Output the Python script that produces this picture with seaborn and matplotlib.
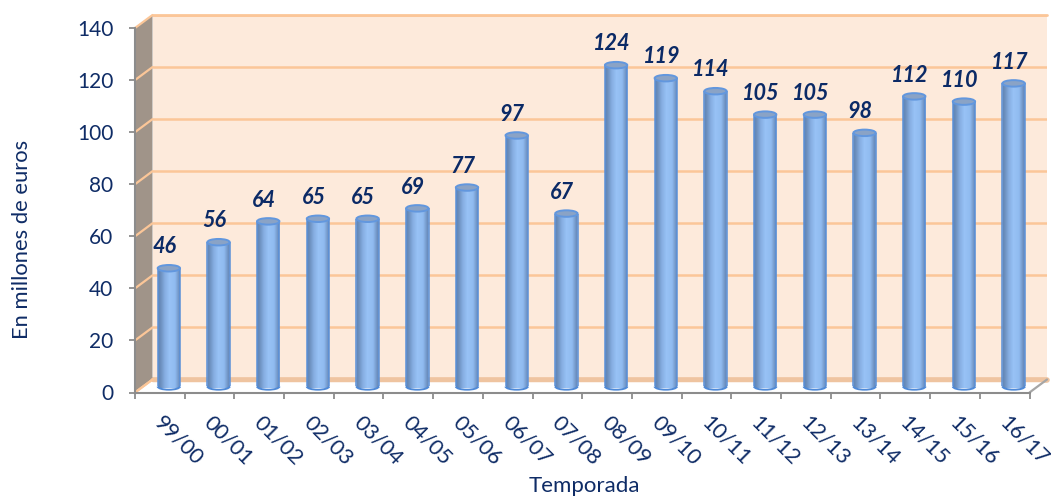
import numpy as np
import matplotlib
matplotlib.use("Agg")
import matplotlib.pyplot as plt
import matplotlib.colors as mc
from matplotlib.patches import Ellipse, Arc
from matplotlib.path import Path
from matplotlib.transforms import ScaledTranslation, Affine2D
import pandas as pd
import seaborn as sns

seasons = ["99/00","00/01","01/02","02/03","03/04","04/05","05/06","06/07","07/08",
           "08/09","09/10","10/11","11/12","12/13","13/14","14/15","15/16","16/17"]
values = [46,56,64,65,65,69,77,97,67,124,119,114,105,105,98,112,110,117]
y_ticks = [0,20,40,60,80,100,120,140]
x_title = "Temporada"
y_title = "En millones de euros"

NAVY = "#0F2C66"
W, H = 1051, 497
sns.set_theme(style="white")
plt.rcParams["font.family"] = ["Lato", "DejaVu Sans"]
fig = plt.figure(figsize=(W/100, H/100), dpi=100)

def box(l, r, top, bot):
    return [l/W, 1-bot/H, (r-l)/W, (bot-top)/H]

DX, DY = 17.5, 13
X0, X1, YB, YT = 135, 1029.5, 392.5, 28
ymax = 140
unit_x = (X1-X0)/18
unit_y = (YB-YT)/ymax

# back wall
wall = fig.add_axes(box(X0+DX, X1+DX, YT-DY, YB-DY), zorder=0)
wall.set_facecolor("#FDEADB")
wall.set_xlim(0, 1); wall.set_ylim(0, ymax)
wall.set_xticks([]); wall.set_yticks(y_ticks)
wall.tick_params(left=False, labelleft=False)
wall.grid(axis="y", color="#FBC698", lw=1.8)
wall.set_axisbelow(True)
for s in wall.spines.values():
    s.set_visible(False)
wall.axhline(0, color="#EFC4A0", lw=4, clip_on=False)
wall.axhline(ymax, color="#FBC698", lw=2, clip_on=False)

# front frame, side wall
ax = fig.add_axes(box(X0, X1, YT, YB), zorder=1)
ax.patch.set_alpha(0)
ax.set_xlim(-0.5, 17.5); ax.set_ylim(0, ymax)
dx_d, dy_d = DX/unit_x, DY/unit_y
ax.fill([-0.5, -0.5+dx_d, -0.5+dx_d, -0.5], [0, dy_d, ymax+dy_d, ymax],
        color="#A09489", lw=0, clip_on=False, zorder=1)
for v in y_ticks:
    ax.plot([-0.5, -0.5+dx_d], [v, v+dy_d], color="#FBC698", lw=1.6, clip_on=False, zorder=2)
# floor
ax.fill([-0.5, -0.5+dx_d, 17.5+dx_d, 17.5], [0, dy_d, dy_d, 0], color="white",
        lw=0, clip_on=False, zorder=1.5)
ax.plot([-0.5, -0.5+dx_d], [0, dy_d], color="#FBC698", lw=1.6, clip_on=False, zorder=2)
ax.plot([17.5, 17.5+dx_d], [0, dy_d], color="#A6A6A6", lw=1.6, clip_on=False, zorder=2)
ax.plot([-0.5+dx_d, 17.5+dx_d], [dy_d, dy_d], color="#EFC4A0", lw=3.2, clip_on=False, zorder=1.8)

for s in ["top", "right"]:
    ax.spines[s].set_visible(False)
for s in ["left", "bottom"]:
    ax.spines[s].set_color("#8C8C8C"); ax.spines[s].set_linewidth(1.5)
ax.set_yticks(y_ticks)
ax.set_xticks(np.arange(-0.5, 18, 1))
ax.set_xticklabels([])
ax.set_xticks(np.arange(18), minor=True)
ax.set_xticklabels(seasons, minor=True)
ax.tick_params(axis="x", which="major", bottom=True, length=4.5, width=1.3, color="#8C8C8C")
ax.tick_params(axis="y", left=True, length=4.5, width=1.3, color="#8C8C8C",
               labelsize=15, labelcolor=NAVY, pad=11)
ax.tick_params(axis="x", which="minor", bottom=False, length=0, labelsize=15.6,
               labelcolor=NAVY, pad=14)
shift = ScaledTranslation(5/100, 0, fig.dpi_scale_trans)
for t in ax.get_xticklabels(minor=True):
    t.set_rotation(-45); t.set_ha("left"); t.set_va("top")
    t.set_rotation_mode("anchor")
    t.set_transform(t.get_transform() + shift)
fig.text(584/W, 1-486/H, x_title, color=NAVY, fontsize=16, ha="center", va="center")
fig.text(22/W, 1-239/H, y_title, color=NAVY, fontsize=15.8, rotation=90, ha="center", va="center")

# bars
bax = fig.add_axes(box(X0+9, X1+9, YT-4.5, YB-4.5), zorder=2)
bax.patch.set_alpha(0)
df = pd.DataFrame({"season": seasons, "value": values})
sns.barplot(data=df, x="season", y="value", ax=bax, width=0.45, color="#8DB9EE",
            saturation=1, linewidth=0)
bax.set_xlim(-0.5, 17.5); bax.set_ylim(0, ymax)
bax.axis("off")

cmap = mc.LinearSegmentedColormap.from_list("cyl", [
    (0.0, "#5E84B8"), (0.1, "#6A8DBB"), (0.3, "#86AEE2"), (0.5, "#98C2F6"),
    (0.75, "#90BBF0"), (0.92, "#6F93C3"), (1.0, "#5E84B8")])
grad = np.linspace(0, 1, 64).reshape(1, -1)
ell_h = 6.5/unit_y
for p, v in zip(list(bax.patches), values):
    x, w = p.get_x(), p.get_width()
    cx = x + w/2
    p.set_visible(False)
    # body clip: bar rectangle joined to the rounded base
    base_path = Path.unit_circle().transformed(
        Affine2D().scale(w/2, ell_h/2).translate(cx, 0.6))
    rect_path = Path([(x, 0.6), (x+w, 0.6), (x+w, v), (x, v), (x, 0.6)],
                     closed=True)
    outline = Path.make_compound_path(base_path, rect_path)
    im = bax.imshow(grad, extent=(x, x+w, 0.6-ell_h/2, v), aspect="auto", cmap=cmap,
                    zorder=4, clip_on=True)
    im.set_clip_path(outline, transform=bax.transData)
    bax.add_patch(Arc((cx, 0.6), w, ell_h, theta1=180, theta2=360, ec="#4F8AD8", lw=1.4,
                      zorder=5, clip_on=False))
    bax.plot([x, x], [0.6, v], color="#5A90D8", lw=1.1, zorder=5, solid_capstyle="butt")
    bax.plot([x+w, x+w], [0.6, v], color="#5A90D8", lw=1.1, zorder=5, solid_capstyle="butt")
    top = Ellipse((cx, v), w, ell_h, fc="#8AA3C6", ec="#6297DE", lw=1.4, zorder=6, clip_on=False)
    bax.add_patch(top)
    bax.annotate(str(v), (cx, v), xytext=(-3.2, 7.8), textcoords="offset points",
                 ha="center", va="bottom", color="#0B2A66", fontsize=15.6,
                 fontweight="bold", fontstyle="italic", annotation_clip=False, zorder=7)
bax.set_xlim(-0.5, 17.5); bax.set_ylim(0, ymax)

fig.savefig("out.png", dpi=100, facecolor="white")
